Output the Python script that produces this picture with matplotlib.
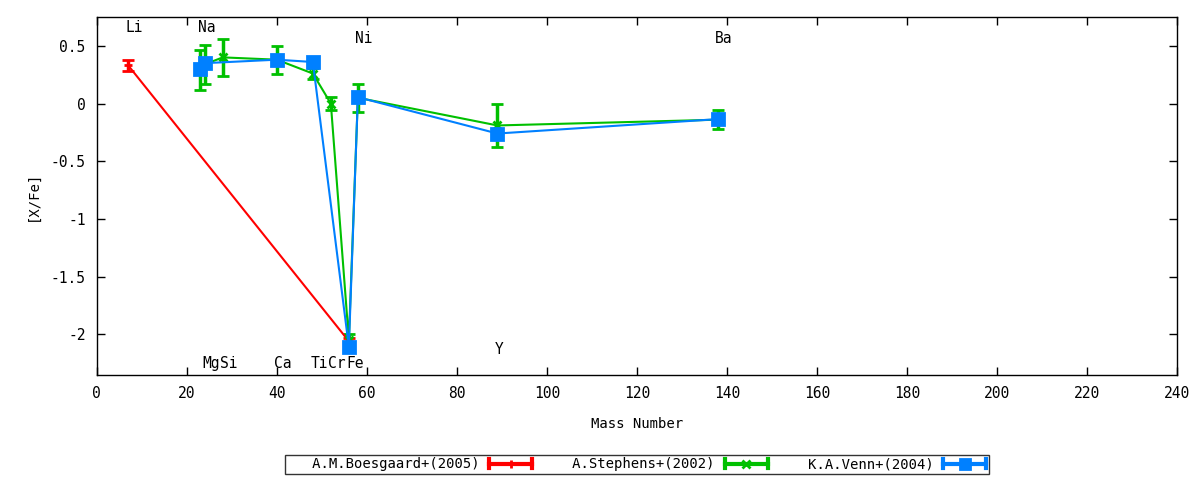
import numpy as np
import matplotlib
matplotlib.use('Agg')
import matplotlib.pyplot as plt
import matplotlib.ticker as ticker
from matplotlib.lines import Line2D
from matplotlib.legend_handler import HandlerBase

plt.rcParams['font.family'] = 'DejaVu Sans Mono'
plt.rcParams['font.size'] = 9.5

# A.M.Boesgaard+(2005)
boes_x = [7, 56]
boes_y = [0.33, -2.06]
boes_e = [0.05, 0.03]

# A.Stephens+(2002)
step_x = [23, 24, 28, 40, 48, 52, 56, 58, 89, 138]
step_y = [0.29, 0.34, 0.40, 0.38, 0.26, 0.0, -2.05, 0.05, -0.19, -0.14]
step_e = [0.17, 0.17, 0.16, 0.12, 0.05, 0.06, 0.05, 0.12, 0.19, 0.08]

# K.A.Venn+(2004)
venn_x = [23, 24, 40, 48, 56, 58, 89, 138]
venn_y = [0.30, 0.35, 0.38, 0.36, -2.11, 0.055, -0.26, -0.135]
venn_e = [0.02, 0.02, 0.02, 0.02, 0.04, 0.02, 0.02, 0.02]

# element labels: name, mass, y
el_names = ['Li', 'Na', 'Ni', 'Ba', 'Mg', 'Si', 'Ca', 'Ti', 'Cr', 'Fe', 'Y']
el_mass = [7, 23, 58, 138, 24, 28, 40, 48, 52, 56, 89]
el_y = [0.66, 0.66, 0.565, 0.565, -2.25, -2.25, -2.25, -2.25, -2.25, -2.25, -2.13]

series = [
    (boes_x, boes_y, boes_e, '#ff0000', '+', 6, 'A.M.Boesgaard+(2005)'),
    (step_x, step_y, step_e, '#00c000', 'x', 6, 'A.Stephens+(2002)'),
    (venn_x, venn_y, venn_e, '#0080ff', 's', 8.5, 'K.A.Venn+(2004)'),
]


class ErrSample(HandlerBase):
    # gnuplot style sample: horizontal bar with end caps and point in the middle
    def create_artists(self, legend, orig, xd, yd, w, h, fs, trans):
        c = orig.get_color()
        y = h / 2 - yd
        x0, x1 = -xd, -xd + w
        art = [Line2D([x0, x1], [y, y], color=c, lw=3),
               Line2D([x0, x0], [y - 3.5, y + 3.5], color=c, lw=3),
               Line2D([x1, x1], [y - 3.5, y + 3.5], color=c, lw=3),
               Line2D([(x0 + x1) / 2], [y], color=c, marker=orig.get_marker(),
                      ms=orig.get_markersize() * 0.85, mew=2, ls='none')]
        for a in art:
            a.set_transform(trans)
        return art


fig = plt.figure(figsize=(12, 4.8), dpi=100)
ax = fig.add_axes([0.0806, 0.2194, 0.9005, 0.7452])

handles = []
for xs, ys, es, col, mk, ms, lab in series:
    ax.errorbar(xs, ys, yerr=es, color=col, marker=mk, ms=ms, mew=2, lw=1.5,
                elinewidth=2.5, capsize=4, capthick=2.5)
    handles.append(Line2D([], [], color=col, marker=mk, ms=ms, label=lab))

for n, m, y in zip(el_names, el_mass, el_y):
    ax.text(m - 0.6, y, n, ha='left', va='center', fontsize=10.5)

ax.set_xlim(0, 240)
ax.set_ylim(-2.35, 0.75)
ax.xaxis.set_major_locator(ticker.MultipleLocator(20))
ax.yaxis.set_major_locator(ticker.FixedLocator([-2, -1.5, -1, -0.5, 0, 0.5]))
ax.yaxis.set_major_formatter(ticker.FuncFormatter(lambda v, p: ('%g' % v)))
ax.tick_params(direction='in', length=6, width=1, top=True, right=True,
               labelsize=10.5, pad=8)
for s in ax.spines.values():
    s.set_linewidth(1)

ax.set_xlabel('Mass Number', fontsize=10, labelpad=12)
ax.set_ylabel('[X/Fe]', fontsize=10, labelpad=8)

labels = ['   ' + h.get_label() for h in handles]
leg = fig.legend(handles, labels, loc='center', bbox_to_anchor=(0.5305, 0.0323), ncol=3,
                 markerfirst=False, frameon=True, fancybox=False, fontsize=10,
                 handlelength=3.1, columnspacing=1.1, borderpad=0.15,
                 handletextpad=0.7, borderaxespad=0,
                 handler_map={Line2D: ErrSample()})
leg.get_frame().set_edgecolor('black')
leg.get_frame().set_linewidth(1)

fig.savefig('out.png', dpi=100)
